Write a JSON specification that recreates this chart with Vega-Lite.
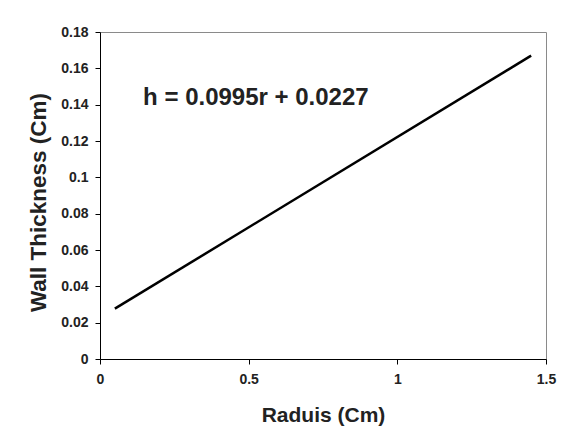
{
  "$schema": "https://vega.github.io/schema/vega-lite/v6.json",
  "autosize": "none",
  "width": 446,
  "height": 327,
  "padding": {"left": 100, "top": 32, "right": 18, "bottom": 82},
  "background": "white",
  "config": {
    "view": {"stroke": "#8a8a8a", "strokeWidth": 1},
    "font": "Liberation Sans",
    "axis": {
      "grid": false,
      "domainColor": "black",
      "domainWidth": 1,
      "tickColor": "black",
      "tickSize": 5,
      "labelFont": "Liberation Sans",
      "labelFontSize": 14,
      "labelFontWeight": "bold",
      "labelColor": "#222222",
      "titleFont": "Liberation Sans",
      "titleFontWeight": "bold",
      "titleColor": "#222222",
      "labelFlush": false,
      "labelOverlap": false
    }
  },
  "layer": [
    {
      "data": {"values": [{"r": 0.05, "h": 0.0277}, {"r": 1.45, "h": 0.167}]},
      "mark": {"type": "line", "color": "black", "strokeWidth": 2.5},
      "encoding": {
        "x": {
          "field": "r",
          "type": "quantitative",
          "scale": {"domain": [0, 1.5], "nice": false},
          "axis": {
            "values": [0, 0.5, 1, 1.5],
            "tickCount": 20,
            "format": "~g",
            "labelOverlap": false,
            "labelPadding": 8,
            "title": "Raduis (Cm)",
            "titleFontSize": 21,
            "titleX": 223,
            "titleY": 62,
            "titleBaseline": "alphabetic"
          }
        },
        "y": {
          "field": "h",
          "type": "quantitative",
          "scale": {"domain": [0, 0.18], "nice": false},
          "axis": {
            "values": [0, 0.02, 0.04, 0.06, 0.08, 0.1, 0.12, 0.14, 0.16, 0.18],
            "tickCount": 20,
            "format": "~g",
            "labelOverlap": false,
            "labelPadding": 7,
            "title": "Wall Thickness (Cm)",
            "titleFontSize": 22.5,
            "titleAngle": -90,
            "titleX": -55,
            "titleY": 170,
            "titleAlign": "center",
            "titleBaseline": "alphabetic"
          }
        }
      }
    },
    {
      "data": {"values": [{"label": "h = 0.0995r + 0.0227"}]},
      "mark": {"type": "text", "align": "left", "baseline": "alphabetic", "fontSize": 24, "fontWeight": "bold", "color": "#222222", "font": "Liberation Sans"},
      "encoding": {
        "x": {"datum": 0.145, "type": "quantitative"},
        "y": {"datum": 0.14, "type": "quantitative"},
        "text": {"field": "label", "type": "nominal"}
      }
    }
  ]
}
